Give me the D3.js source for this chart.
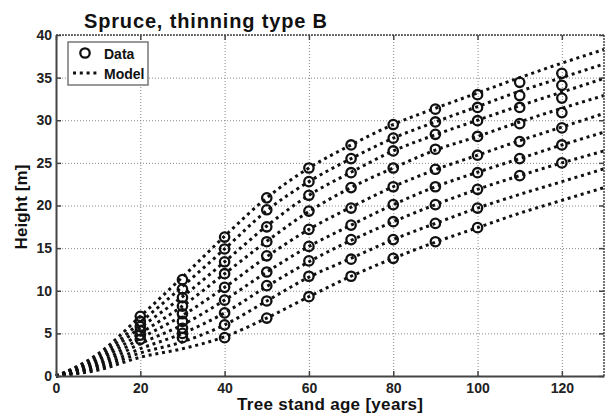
<!DOCTYPE html>
<html>
<head>
<meta charset="utf-8">
<script src="https://cdn.jsdelivr.net/npm/d3@7"></script>
<style>
  body { margin: 0; background: #fff; }
  svg { display: block; font-family: "Liberation Sans", Arial, sans-serif; }
</style>
</head>
<body>
<svg></svg>
<script>
var width = 605;
var height = 414;

// measured stands: age of stand and the heights recorded at that age
var dataAges = [20, 30, 40, 50, 60, 70, 80, 90, 100, 110, 120];
var dataHeights = [
    [7.0, 6.4, 5.8, 5.3, 4.8, 4.3],
    [11.3, 10.2, 9.2, 8.2, 7.3, 6.4, 5.6, 5.0, 4.5],
    [16.3, 14.9, 13.4, 12.0, 10.4, 8.9, 7.4, 6.0, 4.5],
    [20.9, 19.5, 17.5, 15.75, 14.1, 12.2, 10.6, 8.8, 6.8],
    [24.4, 22.8, 21.2, 19.35, 17.2, 15.2, 13.5, 11.7, 9.3],
    [27.1, 25.5, 23.85, 22.1, 19.7, 17.7, 16.0, 13.7, 11.7],
    [29.5, 27.9, 26.4, 24.4, 22.2, 20.1, 18.1, 16.0, 13.8],
    [31.3, 29.8, 28.35, 26.6, 24.25, 22.2, 20.1, 17.9, 15.75],
    [33.0, 31.5, 29.95, 28.1, 25.9, 23.85, 21.9, 19.7, 17.4],
    [34.45, 32.9, 31.5, 29.6, 27.5, 25.5, 23.5],
    [35.5, 34.1, 32.6, 30.9, 29.1, 27.1, 25.0]
];

// model curves every 10 years
var modelAges = [0, 10, 20, 30, 40, 50, 60, 70, 80, 90, 100, 110, 120, 130];
var modelCurves = [
    [0, 2.6, 7.0, 11.6, 16.4, 20.9, 24.4, 27.1, 29.5, 31.4, 33.2, 35.0, 36.7, 38.3],
    [0, 2.3, 6.3, 10.5, 14.9, 19.4, 22.8, 25.5, 27.9, 29.8, 31.6, 33.4, 35.0, 36.6],
    [0, 2.0, 5.7, 9.3, 13.4, 17.6, 21.2, 23.9, 26.4, 28.3, 30.0, 31.7, 33.3, 34.9],
    [0, 1.8, 5.0, 8.2, 12.0, 15.8, 19.3, 22.1, 24.4, 26.5, 28.1, 29.8, 31.4, 32.9],
    [0, 1.5, 4.4, 7.1, 10.4, 14.0, 17.2, 19.8, 22.2, 24.2, 25.9, 27.6, 29.2, 30.8],
    [0, 1.3, 3.8, 6.0, 8.9, 12.2, 15.2, 17.7, 20.1, 22.2, 23.9, 25.5, 27.1, 28.6],
    [0, 1.1, 3.2, 5.0, 7.4, 10.5, 13.4, 15.9, 18.1, 20.1, 21.9, 23.5, 25.0, 26.4],
    [0, 0.9, 2.7, 4.0, 6.0, 8.8, 11.6, 13.8, 16.0, 17.9, 19.7, 21.3, 22.8, 24.3],
    [0, 0.7, 2.2, 3.2, 4.6, 6.8, 9.3, 11.7, 13.8, 15.7, 17.4, 19.1, 20.6, 22.1]
];

var xTicks = [0, 20, 40, 60, 80, 100, 120];
var yTicks = [0, 5, 10, 15, 20, 25, 30, 35, 40];

var plotLeft = 56, plotRight = 604, plotTop = 35, plotBottom = 376;

var xScale = d3.scaleLinear()
                .domain([0, 130])
                .range([plotLeft, plotRight]);
var yScale = d3.scaleLinear()
                .domain([0, 40])
                .range([plotBottom, plotTop]);

var svg = d3.select("svg")
             .attr("width", width)
             .attr("height", height);

// dotted grid
svg.append("g")
    .attr("transform", "translate(0," + plotBottom + ")")
    .call(d3.axisBottom(xScale).tickValues(xTicks).tickSize(-(plotBottom - plotTop)).tickFormat(""))
    .call(function(g) {
        g.select(".domain").remove();
        g.selectAll("line").attr("stroke", "#888").attr("stroke-dasharray", "1,2");
    });
svg.append("g")
    .attr("transform", "translate(" + plotLeft + ",0)")
    .call(d3.axisLeft(yScale).tickValues(yTicks).tickSize(-(plotRight - plotLeft)).tickFormat(""))
    .call(function(g) {
        g.select(".domain").remove();
        g.selectAll("line").attr("stroke", "#888").attr("stroke-dasharray", "1,2");
    });

// model curves
var line = d3.line()
    .x(function(d, i) { return xScale(modelAges[i]); })
    .y(function(d) { return yScale(d); })
    .curve(d3.curveMonotoneX);

svg.append("g")
    .selectAll("path")
    .data(modelCurves)
    .enter()
    .append("path")
        .attr("d", line)
        .attr("fill", "none")
        .attr("stroke", "#111")
        .attr("stroke-width", 3)
        .attr("stroke-dasharray", "3,3.8");

// data circles
var points = [];
dataAges.forEach(function(a, i) {
    dataHeights[i].forEach(function(h) { points.push([a, h]); });
});
svg.append("g")
    .selectAll("circle")
    .data(points)
    .enter()
    .append("circle")
        .attr("cx", function(d) { return xScale(d[0]); })
        .attr("cy", function(d) { return yScale(d[1]); })
        .attr("r", 4.7)
        .attr("fill", "none")
        .attr("stroke", "#111")
        .attr("stroke-width", 2.3);

// box: solid left/bottom, dotted top/right
svg.append("line").attr("x1", plotLeft).attr("x2", plotRight).attr("y1", plotTop).attr("y2", plotTop)
    .attr("stroke", "#444").attr("stroke-width", 1.5).attr("stroke-dasharray", "2,1");
svg.append("line").attr("x1", plotRight).attr("x2", plotRight).attr("y1", plotTop).attr("y2", plotBottom)
    .attr("stroke", "#444").attr("stroke-width", 1.5).attr("stroke-dasharray", "2,1");

// axes with inward ticks and bold labels
var xAxis = svg.append("g")
    .attr("transform", "translate(0," + plotBottom + ")")
    .call(d3.axisBottom(xScale).tickValues(xTicks).tickSize(-5).tickSizeOuter(0).tickPadding(7));
var yAxis = svg.append("g")
    .attr("transform", "translate(" + plotLeft + ",0)")
    .call(d3.axisLeft(yScale).tickValues(yTicks).tickSize(-5).tickSizeOuter(0).tickPadding(4));
[xAxis, yAxis].forEach(function(g) {
    g.select(".domain").attr("stroke", "#444").attr("stroke-width", 2);
    g.selectAll("line").attr("stroke", "#444").attr("stroke-width", 1.5);
    g.selectAll("text")
        .style("font-family", "Liberation Sans, Arial, sans-serif")
        .style("font-size", "14px")
        .style("font-weight", "bold")
        .attr("fill", "#222");
});
// ticks on top and right edges
svg.append("g")
    .attr("transform", "translate(0," + plotTop + ")")
    .call(d3.axisTop(xScale).tickValues(xTicks).tickSize(-5).tickFormat(""))
    .call(function(g) { g.select(".domain").remove(); g.selectAll("line").attr("stroke", "#444").attr("stroke-width", 1.5); });
svg.append("g")
    .attr("transform", "translate(" + plotRight + ",0)")
    .call(d3.axisRight(yScale).tickValues(yTicks).tickSize(-5).tickFormat(""))
    .call(function(g) { g.select(".domain").remove(); g.selectAll("line").attr("stroke", "#444").attr("stroke-width", 1.5); });

// labels
svg.append("text")
    .attr("x", 84)
    .attr("y", 28)
    .attr("textLength", 243)
    .style("font-size", "20px")
    .style("font-weight", "bold")
    .attr("fill", "#111")
    .text("Spruce, thinning type B");

svg.append("text")
    .attr("x", 330)
    .attr("y", 410)
    .attr("textLength", 186)
    .style("text-anchor", "middle")
    .style("font-size", "17px")
    .style("font-weight", "bold")
    .attr("fill", "#111")
    .text("Tree stand age [years]");

svg.append("text")
    .attr("transform", "rotate(-90)")
    .attr("x", -207)
    .attr("y", 27)
    .attr("textLength", 85)
    .style("text-anchor", "middle")
    .style("font-size", "17px")
    .style("font-weight", "bold")
    .attr("fill", "#111")
    .text("Height [m]");

// legend
var legend = svg.append("g");
legend.append("rect")
    .attr("x", 68).attr("y", 42).attr("width", 80).attr("height", 43)
    .attr("fill", "#fff").attr("stroke", "#777").attr("stroke-width", 1.5);
legend.append("circle")
    .attr("cx", 85).attr("cy", 53).attr("r", 4.7)
    .attr("fill", "none").attr("stroke", "#111").attr("stroke-width", 2.3);
legend.append("line")
    .attr("x1", 73).attr("x2", 98).attr("y1", 73).attr("y2", 73)
    .attr("stroke", "#111").attr("stroke-width", 3).attr("stroke-dasharray", "3,3.8");
legend.append("text")
    .attr("x", 104).attr("y", 59)
    .style("font-size", "14px").style("font-weight", "bold").attr("fill", "#111")
    .text("Data");
legend.append("text")
    .attr("x", 104).attr("y", 79)
    .style("font-size", "14px").style("font-weight", "bold").attr("fill", "#111")
    .text("Model");
</script>
</body>
</html>
